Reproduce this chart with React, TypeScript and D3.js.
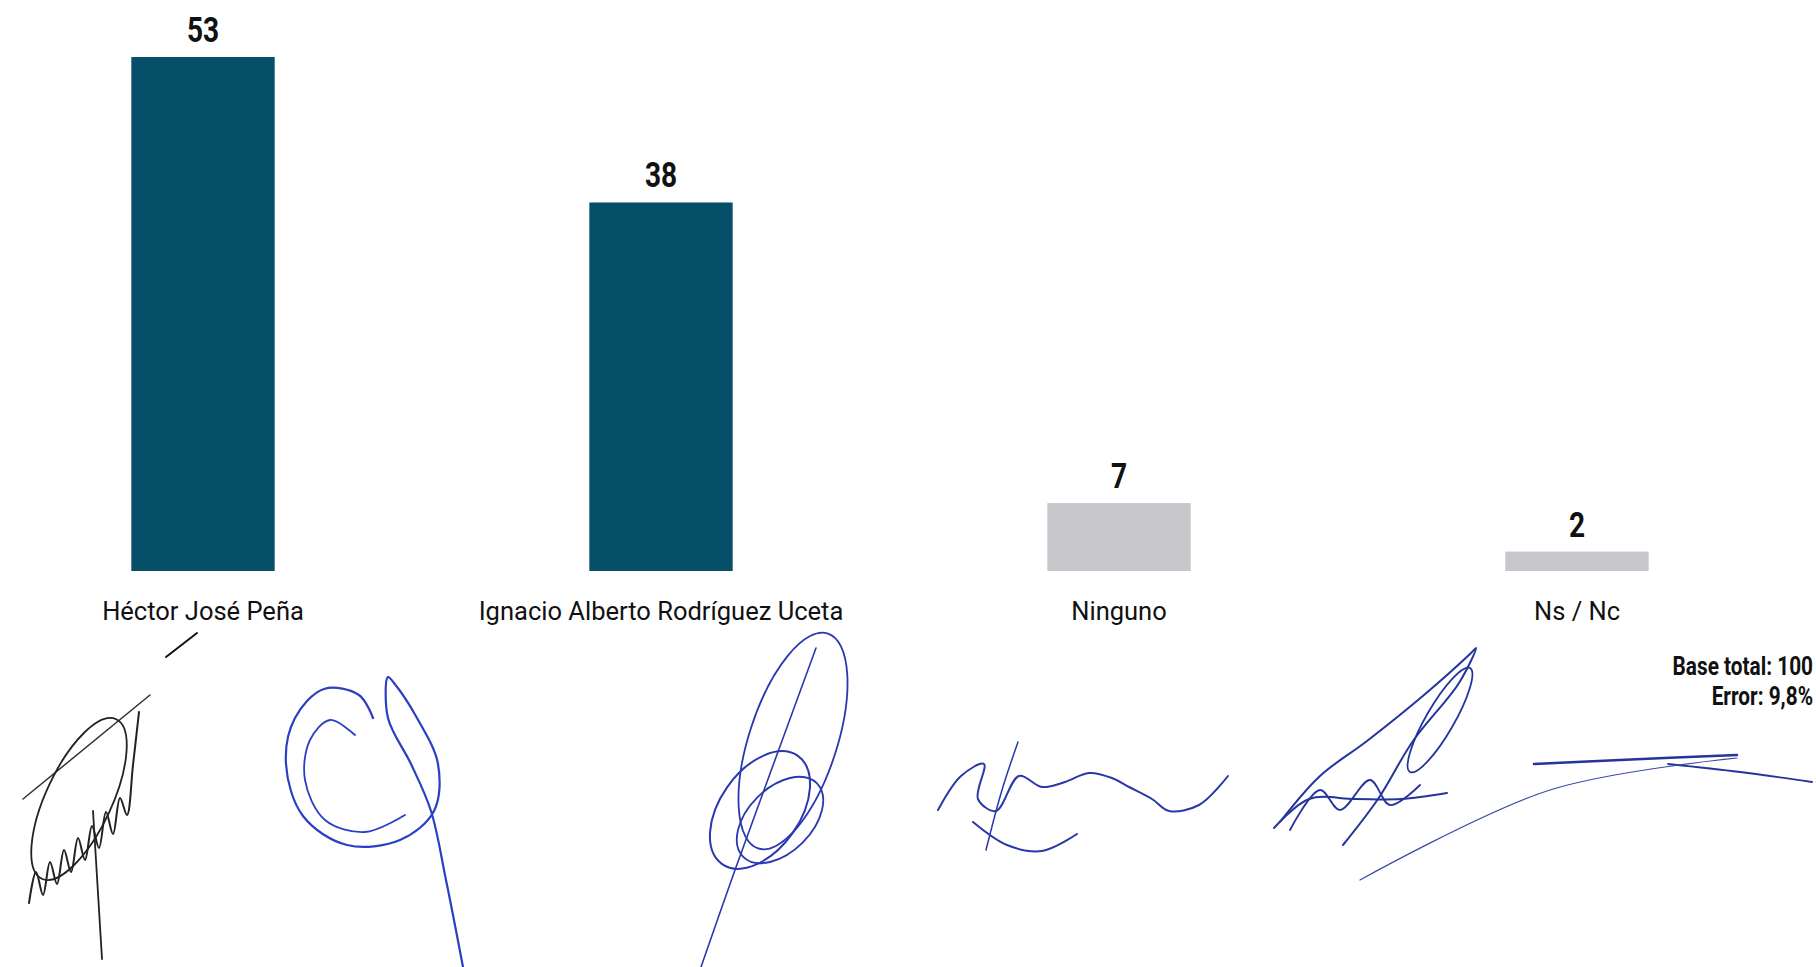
import { useEffect, useRef } from 'react'
import * as d3 from 'd3'

// chart data
const categories = ['Héctor José Peña', 'Ignacio Alberto Rodríguez Uceta', 'Ninguno', 'Ns / Nc']
const values = [53, 38, 7, 2]
const barColors = ['#064f68', '#064f68', '#c6c6cb', '#c6c6cb']
const footnotes = ['Base total: 100', 'Error: 9,8%']

// hand-drawn signatures under the chart (rough strokes, page coords)
const signatureStrokes: { pts: [number, number][]; color: string; w: number }[] = [
  { pts: [[29, 903], [36, 872], [43, 895], [50, 862], [57, 884], [64, 850], [71, 872], [78, 838], [85, 860], [92, 826], [99, 848], [106, 812], [113, 834], [120, 798], [127, 815], [133, 765], [139, 712]], color: '#222', w: 2 },
  { pts: [[23, 799], [150, 695]], color: '#333', w: 1.5 },
  { pts: [[93, 811], [102, 959]], color: '#222', w: 1.8 },
  { pts: [[166, 657], [197, 633]], color: '#111', w: 2 },
  { pts: [[373, 718], [359, 695], [324, 689], [295, 718], [286, 764], [303, 816], [347, 845], [400, 840], [434, 811], [438, 764], [417, 718], [394, 683], [388, 677], [388, 718], [411, 764], [431, 811], [446, 880], [463, 967]], color: '#2a3fc4', w: 2.2 },
  { pts: [[355, 735], [330, 720], [310, 740], [305, 780], [325, 820], [365, 832], [405, 815]], color: '#2a3fc4', w: 1.8 },
  { pts: [[701, 967], [735, 870], [775, 760], [816, 648]], color: '#2a38b0', w: 1.6 },
  { pts: [[938, 810], [961, 776], [984, 764], [978, 799], [996, 811], [1019, 776], [1042, 787], [1065, 782], [1089, 773], [1112, 778], [1129, 787], [1152, 799], [1169, 811], [1199, 805], [1228, 776]], color: '#2838a8', w: 2 },
  { pts: [[973, 822], [1007, 845], [1042, 851], [1077, 834]], color: '#2838a8', w: 2 },
  { pts: [[986, 850], [1002, 790], [1018, 742]], color: '#2838a8', w: 1.5 },
  { pts: [[1280, 822], [1320, 776], [1367, 741], [1424, 695], [1470, 654], [1476, 648], [1459, 683], [1413, 741], [1378, 799], [1343, 845]], color: '#24349e', w: 2 },
  { pts: [[1274, 828], [1309, 799], [1355, 799], [1401, 799], [1447, 793]], color: '#24349e', w: 2 },
  { pts: [[1290, 830], [1320, 790], [1340, 810], [1370, 780], [1390, 805], [1420, 785]], color: '#24349e', w: 1.8 },
  { pts: [[1534, 764], [1620, 760], [1737, 755]], color: '#25349a', w: 2.5 },
  { pts: [[1668, 764], [1740, 772], [1812, 782]], color: '#25349a', w: 1.8 },
  { pts: [[1360, 880], [1550, 790], [1737, 758]], color: '#3a48a8', w: 1.2 },
]
const signatureLoops: { cx: number; cy: number; rx: number; ry: number; rot: number; color: string; w: number }[] = [
  { cx: 79, cy: 799, rx: 33, ry: 88, rot: 25, color: '#222', w: 1.8 },
  { cx: 793, cy: 741, rx: 44, ry: 113, rot: 18, color: '#2a38b0', w: 1.8 },
  { cx: 760, cy: 810, rx: 40, ry: 66, rot: 35, color: '#2a38b0', w: 2 },
  { cx: 780, cy: 820, rx: 32, ry: 52, rot: 45, color: '#2a38b0', w: 1.8 },
  { cx: 1440, cy: 720, rx: 14, ry: 60, rot: 30, color: '#24349e', w: 1.8 },
]

const W = 1816
const H = 967
const NARROW = 0.78 // condensed look for the bold figures

const App = () => {
  const svgRef = useRef<SVGSVGElement>(null)

  useEffect(() => {
    const svg = d3.select(svgRef.current)
    svg.selectAll('*').remove()

    const x = d3.scalePoint<string>().domain(categories).range([203, 1577])
    const barW = x.step() * 0.313
    const y = d3.scaleLinear().domain([0, 53]).range([571, 57])

    // bars
    svg
      .append('g')
      .selectAll('rect')
      .data(values)
      .enter()
      .append('rect')
      .attr('x', (d, i) => x(categories[i])! - barW / 2)
      .attr('y', (d) => y(d))
      .attr('width', barW)
      .attr('height', (d) => y(0) - y(d))
      .attr('fill', (d, i) => barColors[i])

    // value labels
    svg
      .append('g')
      .selectAll('text')
      .data(values)
      .enter()
      .append('text')
      .attr('transform', (d, i) => `translate(${x(categories[i])},${y(d) - 15}) scale(${NARROW},1)`)
      .attr('text-anchor', 'middle')
      .style('font-family', 'Roboto, sans-serif')
      .style('font-weight', 'bold')
      .style('font-size', '36px')
      .attr('fill', '#111')
      .text((d) => d)

    // category labels
    svg
      .append('g')
      .selectAll('text')
      .data(categories)
      .enter()
      .append('text')
      .attr('x', (d) => x(d)!)
      .attr('y', y(0) + 49)
      .attr('text-anchor', 'middle')
      .style('font-family', 'Roboto, sans-serif')
      .style('font-size', '25.5px')
      .attr('fill', '#111')
      .text((d) => d)

    // signatures
    const sig = svg.append('g').attr('fill', 'none').attr('stroke-linecap', 'round')
    const line = d3.line().curve(d3.curveCatmullRom)
    signatureStrokes.forEach((s) => {
      sig.append('path').attr('d', line(s.pts)).attr('stroke', s.color).attr('stroke-width', s.w)
    })
    signatureLoops.forEach((e) => {
      sig
        .append('ellipse')
        .attr('cx', 0)
        .attr('cy', 0)
        .attr('rx', e.rx)
        .attr('ry', e.ry)
        .attr('transform', `translate(${e.cx},${e.cy}) rotate(${e.rot})`)
        .attr('stroke', e.color)
        .attr('stroke-width', e.w)
    })

    // base / error note
    svg
      .append('g')
      .selectAll('text')
      .data(footnotes)
      .enter()
      .append('text')
      .attr('transform', (d, i) => `translate(1813,${675 + i * 30}) scale(0.8,1)`)
      .attr('text-anchor', 'end')
      .style('font-family', 'Roboto, sans-serif')
      .style('font-weight', 'bold')
      .style('font-size', '26px')
      .attr('fill', '#111')
      .text((d) => d)
  }, [])

  return (
    <svg
      ref={svgRef}
      width={W}
      height={H}
      style={{ position: 'absolute', left: 0, top: 0, background: '#fff', display: 'block' }}
    />
  )
}

export default App
